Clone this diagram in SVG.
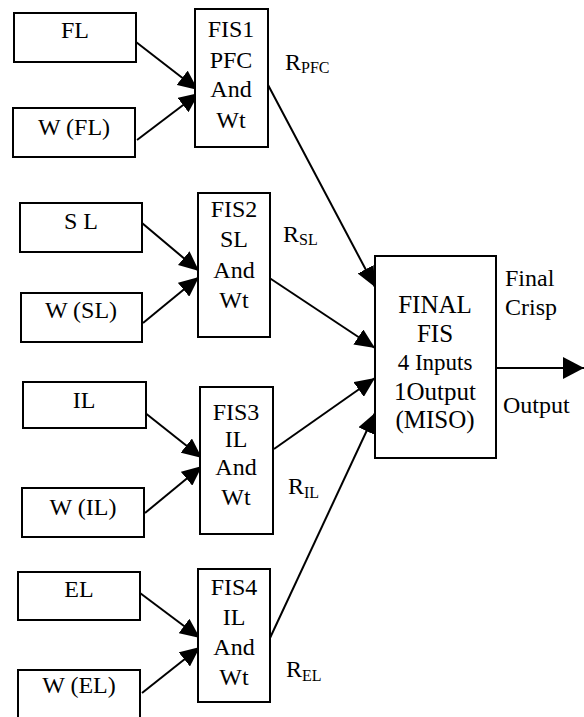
<svg xmlns="http://www.w3.org/2000/svg" width="584" height="717" viewBox="0 0 584 717">
<defs>
<marker id="ah" viewBox="0 0 20 18" refX="20" refY="9" markerWidth="20" markerHeight="18" markerUnits="userSpaceOnUse" orient="auto"><path d="M0,0 L20,9 L0,18 z" fill="#000"/></marker>
<marker id="ahb" viewBox="0 0 21 22" refX="21" refY="11" markerWidth="21" markerHeight="22" markerUnits="userSpaceOnUse" orient="auto"><path d="M0,0 L21,11 L0,22 z" fill="#000"/></marker>
</defs>
<rect width="584" height="717" fill="#fff"/>
<g id="connectors" stroke="#000" stroke-width="2" fill="none" marker-end="url(#ah)">
<line x1="136" y1="42" x2="198" y2="90"/>
<line x1="137" y1="140" x2="199" y2="93"/>
<line x1="142" y1="223" x2="199" y2="271"/>
<line x1="143" y1="323" x2="199" y2="277"/>
<line x1="144" y1="412" x2="202" y2="458"/>
<line x1="145" y1="513" x2="202" y2="466"/>
<line x1="140" y1="593" x2="200" y2="638"/>
<line x1="142" y1="693" x2="200" y2="647"/>
<line x1="267" y1="83" x2="375" y2="287"/>
<line x1="268" y1="277" x2="375" y2="348"/>
<line x1="274" y1="449" x2="375" y2="378"/>
<line x1="270" y1="638" x2="375" y2="413"/>
<line x1="496" y1="368" x2="584" y2="368" marker-end="url(#ahb)"/>
</g>
<g id="fl"><rect x="14" y="13" width="122" height="49" fill="#fff" stroke="#000" stroke-width="2"/><text style="font-family:'Times New Roman',serif;font-size:24px" text-anchor="middle" x="75" y="38">FL</text></g>
<g id="wfl"><rect x="13" y="108" width="122" height="49" fill="#fff" stroke="#000" stroke-width="2"/><text style="font-family:'Times New Roman',serif;font-size:24px" text-anchor="middle" x="74" y="135">W (FL)</text></g>
<g id="sl"><rect x="20" y="203" width="122" height="49" fill="#fff" stroke="#000" stroke-width="2"/><text style="font-family:'Times New Roman',serif;font-size:24px" text-anchor="middle" x="81" y="229">S L</text></g>
<g id="wsl"><rect x="21" y="293" width="121" height="49" fill="#fff" stroke="#000" stroke-width="2"/><text style="font-family:'Times New Roman',serif;font-size:24px" text-anchor="middle" x="81" y="318">W (SL)</text></g>
<g id="il"><rect x="23" y="382" width="123" height="46" fill="#fff" stroke="#000" stroke-width="2"/><text style="font-family:'Times New Roman',serif;font-size:24px" text-anchor="middle" x="84" y="408">IL</text></g>
<g id="wil"><rect x="22" y="488" width="122" height="49" fill="#fff" stroke="#000" stroke-width="2"/><text style="font-family:'Times New Roman',serif;font-size:24px" text-anchor="middle" x="83" y="515">W (IL)</text></g>
<g id="el"><rect x="18" y="572" width="122" height="48" fill="#fff" stroke="#000" stroke-width="2"/><text style="font-family:'Times New Roman',serif;font-size:24px" text-anchor="middle" x="79" y="597">EL</text></g>
<g id="wel"><rect x="18" y="670" width="122" height="60" fill="#fff" stroke="#000" stroke-width="2"/><text style="font-family:'Times New Roman',serif;font-size:24px" text-anchor="middle" x="79" y="693">W (EL)</text></g>
<g id="fis1"><rect x="195" y="9" width="73" height="138" fill="#fff" stroke="#000" stroke-width="2"/>
<text style="font-family:'Times New Roman',serif;font-size:24px" text-anchor="middle" x="231" y="37">FIS1</text><text style="font-family:'Times New Roman',serif;font-size:24px" text-anchor="middle" x="231" y="68">PFC</text><text style="font-family:'Times New Roman',serif;font-size:24px" text-anchor="middle" x="231" y="97">And</text><text style="font-family:'Times New Roman',serif;font-size:24px" text-anchor="middle" x="231" y="128">Wt</text></g>
<g id="fis2"><rect x="198" y="193" width="72" height="144" fill="#fff" stroke="#000" stroke-width="2"/>
<text style="font-family:'Times New Roman',serif;font-size:24px" text-anchor="middle" x="234" y="217">FIS2</text><text style="font-family:'Times New Roman',serif;font-size:24px" text-anchor="middle" x="234" y="247">SL</text><text style="font-family:'Times New Roman',serif;font-size:24px" text-anchor="middle" x="234" y="278">And</text><text style="font-family:'Times New Roman',serif;font-size:24px" text-anchor="middle" x="234" y="308">Wt</text></g>
<g id="fis3"><rect x="200" y="387" width="73" height="147" fill="#fff" stroke="#000" stroke-width="2"/>
<text style="font-family:'Times New Roman',serif;font-size:24px" text-anchor="middle" x="236" y="420">FIS3</text><text style="font-family:'Times New Roman',serif;font-size:24px" text-anchor="middle" x="236" y="447">IL</text><text style="font-family:'Times New Roman',serif;font-size:24px" text-anchor="middle" x="236" y="475">And</text><text style="font-family:'Times New Roman',serif;font-size:24px" text-anchor="middle" x="236" y="505">Wt</text></g>
<g id="fis4"><rect x="198" y="569" width="72" height="133" fill="#fff" stroke="#000" stroke-width="2"/>
<text style="font-family:'Times New Roman',serif;font-size:24px" text-anchor="middle" x="234" y="595">FIS4</text><text style="font-family:'Times New Roman',serif;font-size:24px" text-anchor="middle" x="234" y="625">IL</text><text style="font-family:'Times New Roman',serif;font-size:24px" text-anchor="middle" x="234" y="655">And</text><text style="font-family:'Times New Roman',serif;font-size:24px" text-anchor="middle" x="234" y="685">Wt</text></g>
<g id="final"><rect x="375" y="256" width="121" height="202" fill="#fff" stroke="#000" stroke-width="2"/>
<text style="font-family:'Times New Roman',serif;font-size:25px" text-anchor="middle" x="435" y="313">FINAL</text><text style="font-family:'Times New Roman',serif;font-size:25px" text-anchor="middle" x="435" y="342">FIS</text><text style="font-family:'Times New Roman',serif;font-size:23px" text-anchor="middle" x="435" y="370">4 Inputs</text><text style="font-family:'Times New Roman',serif;font-size:25px" text-anchor="middle" x="435" y="400">1Output</text><text style="font-family:'Times New Roman',serif;font-size:25px" text-anchor="middle" x="435" y="428">(MISO)</text></g>
<g id="labels">
<text style="font-family:'Times New Roman',serif;font-size:24px" x="285" y="70">R<tspan style="font-size:16px" dy="3">PFC</tspan></text>
<text style="font-family:'Times New Roman',serif;font-size:24px" x="283" y="242">R<tspan style="font-size:16px" dy="3">SL</tspan></text>
<text style="font-family:'Times New Roman',serif;font-size:24px" x="288" y="494">R<tspan style="font-size:16px" dy="4">IL</tspan></text>
<text style="font-family:'Times New Roman',serif;font-size:24px" x="286" y="677">R<tspan style="font-size:16px" dy="4">EL</tspan></text>
<text style="font-family:'Times New Roman',serif;font-size:24px" x="505" y="286">Final</text>
<text style="font-family:'Times New Roman',serif;font-size:24px" x="505" y="315">Crisp</text>
<text style="font-family:'Times New Roman',serif;font-size:24px" x="503" y="413">Output</text>
</g>
</svg>
